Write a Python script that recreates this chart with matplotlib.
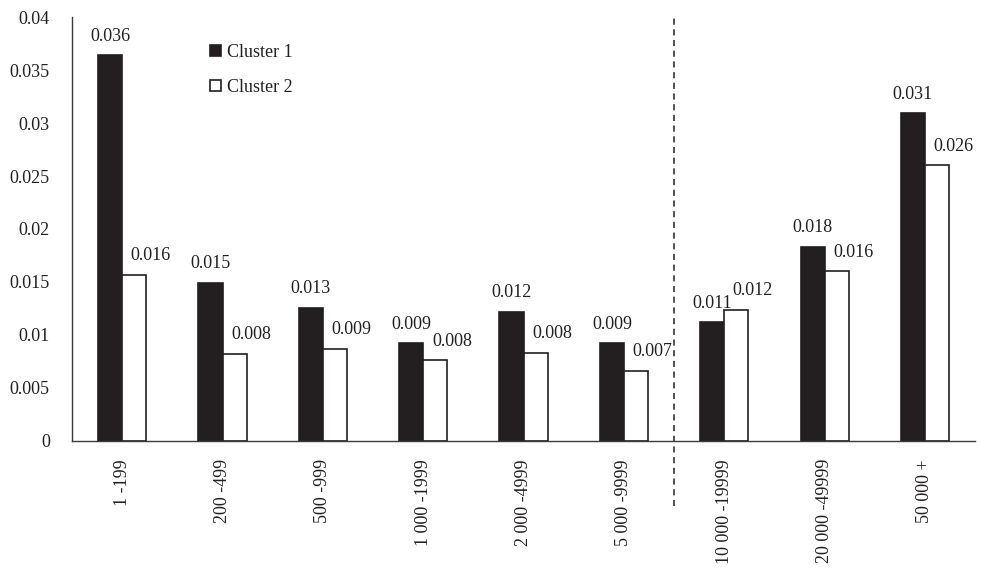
"""Cluster comparison bar chart by size class."""

import matplotlib

matplotlib.use("Agg")
import matplotlib.pyplot as plt
import numpy as np

categories = ["1 -199", "200 -499", "500 -999", "1 000 -1999", "2 000 -4999",
              "5 000 -9999", "10 000 -19999", "20 000 -49999", "50 000 +"]
cluster1 = [0.0364, 0.0149, 0.01255, 0.0092, 0.0122, 0.0092, 0.0112, 0.0183, 0.0309]
cluster2 = [0.0157, 0.0082, 0.0087, 0.0076, 0.0083, 0.0066, 0.0124, 0.0160, 0.0260]
labels1 = ["0.036", "0.015", "0.013", "0.009", "0.012", "0.009", "0.011", "0.018", "0.031"]
labels2 = ["0.016", "0.008", "0.009", "0.008", "0.008", "0.007", "0.012", "0.016", "0.026"]
yticks = [0, 0.005, 0.01, 0.015, 0.02, 0.025, 0.03, 0.035, 0.04]
ytick_labels = ["0", "0.005", "0.01", "0.015", "0.02", "0.025", "0.03", "0.035", "0.04"]
split_after = 6  # dashed divider after this many categories

plt.rcParams["font.family"] = ["Liberation Serif", "DejaVu Serif"]
ink = "#231f20"
fs = 13

fig = plt.figure(figsize=(9.86, 5.73), dpi=100)
ax = fig.add_axes([0.073, 0.2304, 0.916, 0.7399])

x = np.arange(len(categories))
w = 0.24
ax.bar(x - w / 2, cluster1, w, color=ink, edgecolor=ink, linewidth=1.2, label="Cluster 1")
ax.bar(x + w / 2, cluster2, w, color="white", edgecolor=ink, linewidth=1.2, label="Cluster 2")

for xi, v, s in zip(x, cluster1, labels1):
    ax.annotate(s, (xi - w / 2, v), xytext=(0, 10.5), textcoords="offset points",
                ha="center", va="baseline", fontsize=fs, color=ink)
for xi, v, s in zip(x, cluster2, labels2):
    ax.annotate(s, (xi + w / 2, v), xytext=(12, 10.5), textcoords="offset points",
                ha="center", va="baseline", fontsize=fs, color=ink)

ax.plot([split_after - 0.5] * 2, [-0.153, 1.005], transform=ax.get_xaxis_transform(),
        color=ink, linestyle=(0, (4, 3)), linewidth=1.1, clip_on=False)

ax.set_xlim(-0.5, len(categories) - 0.5)
ax.set_ylim(0, 0.04)
ax.set_xticks(x)
ax.set_xticklabels(categories, rotation=90, fontsize=fs, color=ink)
ax.set_yticks(yticks)
ax.set_yticklabels(ytick_labels, fontsize=fs, color=ink)
ax.tick_params(axis="x", length=0, pad=13)
ax.tick_params(axis="y", length=0, pad=16)

for side in ("top", "right"):
    ax.spines[side].set_visible(False)
for side in ("left", "bottom"):
    ax.spines[side].set_color("#3a3a3a")
    ax.spines[side].set_linewidth(1.0)

ax.legend(loc="upper left", bbox_to_anchor=(0.135, 0.975), frameon=False, fontsize=fs,
          handlelength=0.62, handleheight=0.62, handletextpad=0.3, labelspacing=1.0,
          labelcolor=ink)

fig.savefig("out.png", dpi=100)
